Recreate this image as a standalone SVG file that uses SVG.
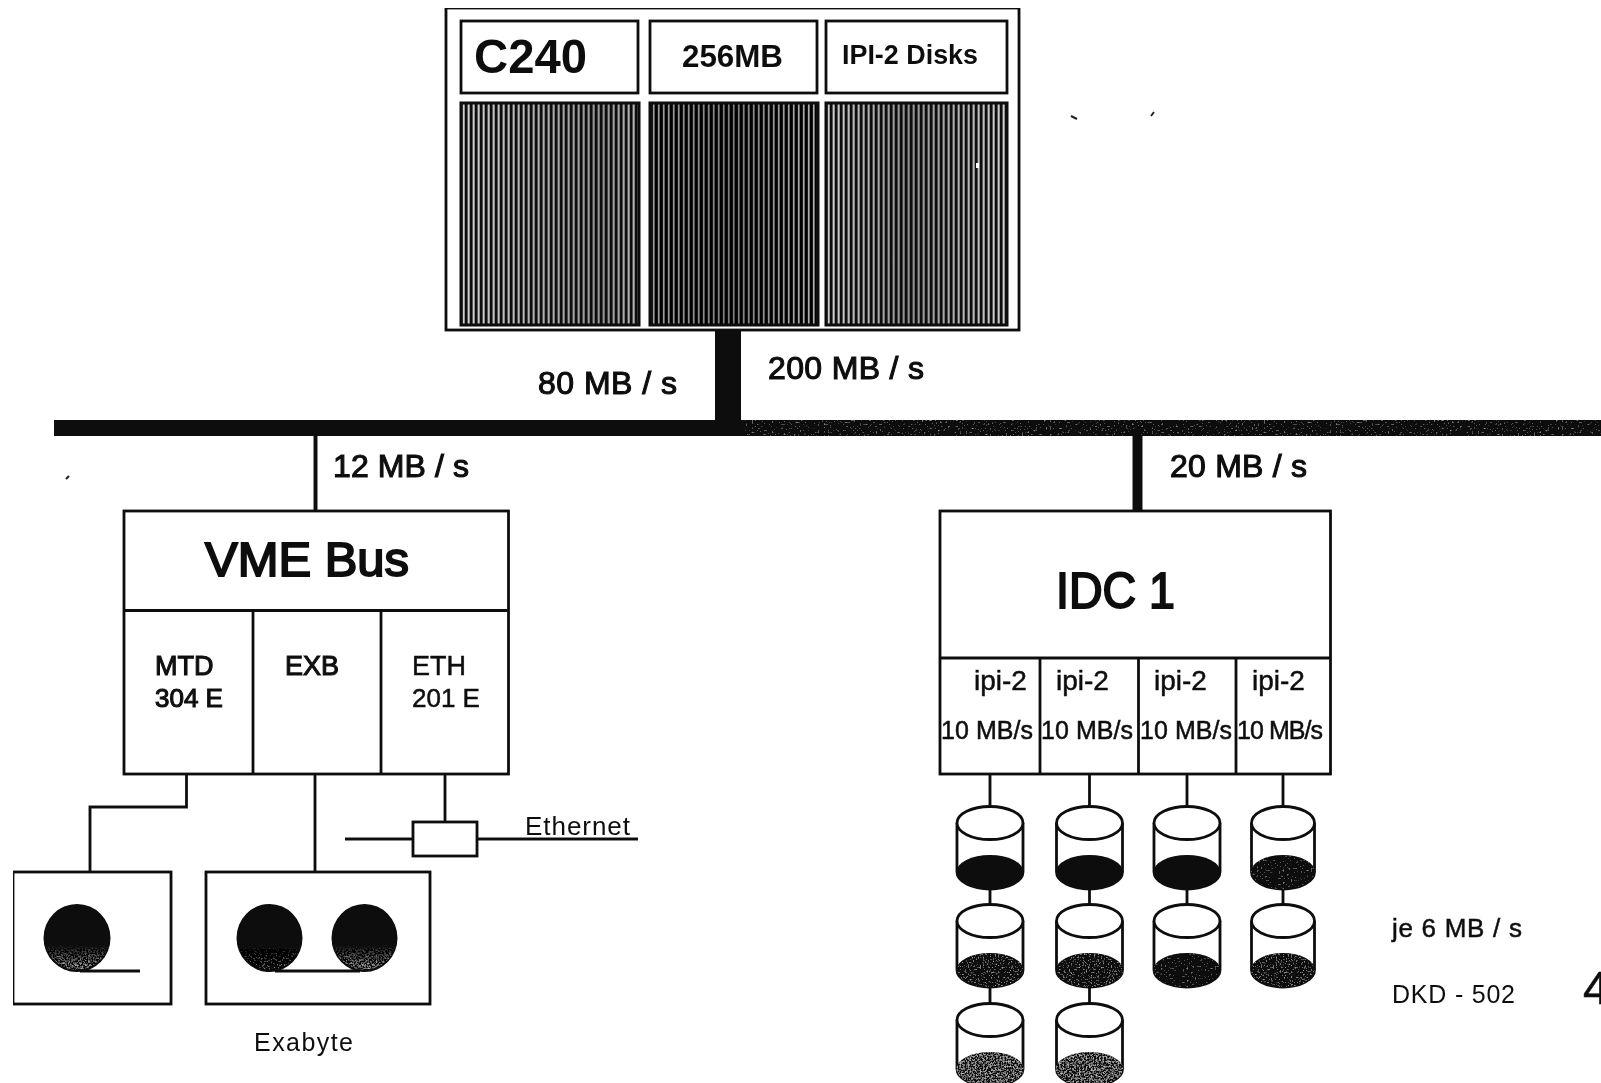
<svg xmlns="http://www.w3.org/2000/svg" xmlns:xlink="http://www.w3.org/1999/xlink" width="1601" height="1083" viewBox="0 0 1601 1083">
<style>
text{font-family:"Liberation Sans",Arial,sans-serif;fill:#111}
.b{font-weight:bold}
.h{stroke:#111;stroke-width:2}
.m{stroke:#111;stroke-width:1.100}
.l{stroke:#111;stroke-width:.5}
.box{fill:#fff;stroke:#111;stroke-width:2.800}
.thin{fill:none;stroke:#111;stroke-width:2.800}
.con{fill:none;stroke:#111;stroke-width:2.800}
.panel{stroke:#0a0a0a;stroke-width:3}
.reel{fill:#080808}
</style>
<defs>
<pattern id="s1" width="5" height="8" patternUnits="userSpaceOnUse"><rect width="5" height="8" fill="#0c0c0c"/><rect x="2.600" width="2.100" height="8" fill="#d0d0d0"/></pattern>
<pattern id="s2" width="5" height="8" patternUnits="userSpaceOnUse"><rect width="5" height="8" fill="#060606"/><rect x="2.900" width="1.700" height="8" fill="#b4b4b4"/></pattern>
<linearGradient id="g1" x1="0" x2="1" y1="0" y2="0"><stop offset="0" stop-color="#000" stop-opacity="0"/><stop offset=".8" stop-color="#000" stop-opacity=".28"/><stop offset="1" stop-color="#000" stop-opacity=".1"/></linearGradient>
<linearGradient id="g2" x1="0" x2="1" y1="0" y2="0"><stop offset="0" stop-color="#000" stop-opacity=".12"/><stop offset=".5" stop-color="#000" stop-opacity=".3"/><stop offset="1" stop-color="#000" stop-opacity="0"/></linearGradient>
<linearGradient id="g3" x1="0" x2="1" y1="0" y2="0"><stop offset="0" stop-color="#000" stop-opacity="0"/><stop offset=".45" stop-color="#000" stop-opacity=".3"/><stop offset="1" stop-color="#000" stop-opacity="0"/></linearGradient>
<linearGradient id="fade" x1="0" x2="0" y1="0" y2="1"><stop offset="0" stop-color="#080808" stop-opacity="0"/><stop offset="1" stop-color="#080808" stop-opacity="1"/></linearGradient>
<filter id="soft" x="0" y="0" width="100%" height="100%"><feGaussianBlur stdDeviation=".5"/></filter>
<filter id="speck0" x="0" y="0" width="100%" height="100%">
<feTurbulence type="fractalNoise" baseFrequency=".5" numOctaves="2" seed="5" result="n"/>
<feColorMatrix in="n" type="matrix" values="0 0 0 0 .5  0 0 0 0 .5  0 0 0 0 .5  3 0 0 0 -1.950" result="c"/>
<feComposite in="c" in2="SourceAlpha" operator="in" result="s"/>
<feMerge><feMergeNode in="SourceGraphic"/><feMergeNode in="s"/></feMerge>
</filter>
<filter id="speck1" x="0" y="0" width="100%" height="100%">
<feTurbulence type="fractalNoise" baseFrequency=".6" numOctaves="2" seed="3" result="n"/>
<feColorMatrix in="n" type="matrix" values="0 0 0 0 .5  0 0 0 0 .5  0 0 0 0 .5  3 0 0 0 -1.750" result="c"/>
<feComposite in="c" in2="SourceAlpha" operator="in" result="s"/>
<feMerge><feMergeNode in="SourceGraphic"/><feMergeNode in="s"/></feMerge>
</filter>
<filter id="speck2" x="0" y="0" width="100%" height="100%">
<feTurbulence type="fractalNoise" baseFrequency=".6" numOctaves="2" seed="8" result="n"/>
<feColorMatrix in="n" type="matrix" values="0 0 0 0 .5  0 0 0 0 .5  0 0 0 0 .5  3 0 0 0 -1.350" result="c"/>
<feComposite in="c" in2="SourceAlpha" operator="in" result="s"/>
<feMerge><feMergeNode in="SourceGraphic"/><feMergeNode in="s"/></feMerge>
</filter>
<g id="body">
<path d="M-33 17V66A33 17 0 0 0 33 66V17" fill="#fff" stroke="#111" stroke-width="2.800"/>
<ellipse cx="0" cy="17" rx="33" ry="16.500" fill="#fff" stroke="#111" stroke-width="2.800"/>
</g>
<path id="cap" d="M-33.500 66A33.500 17 0 0 1 33.500 66A33.500 17 0 0 1 -33.500 66Z" fill="#0b0b0b"/>
<g id="bodyn">
<path d="M-31.500 17V66A31.500 17 0 0 0 31.500 66V17" fill="#fff" stroke="#111" stroke-width="2.800"/>
<ellipse cx="0" cy="17" rx="31.500" ry="16.500" fill="#fff" stroke="#111" stroke-width="2.800"/>
</g>
<path id="capn" d="M-32 66A32 17 0 0 1 32 66A32 17 0 0 1 -32 66Z" fill="#0b0b0b"/>
<path id="reelLow" d="M-32 6A33 34 0 0 0 32 6Z" fill="url(#fade)"/>
</defs>
<rect width="1601" height="1083" fill="#fff"/>
<g filter="url(#soft)">

<g id="connectors">
<rect x="715" y="329" width="26" height="95" fill="#0a0a0a"/>
<rect x="54" y="420" width="691" height="16" fill="#0e0e0e"/>
<rect x="745" y="420" width="856" height="16" fill="#0e0e0e" filter="url(#speck0)"/>
<path class="con" d="M315.500 436V510" style="stroke-width:4"/>
<rect x="1132.500" y="436" width="10" height="74" fill="#0e0e0e"/>
<path class="con" d="M186.500 774V807H90V872"/>
<path class="con" d="M315 774V872"/>
<path class="con" d="M445 774V822"/>
<path class="con" d="M345 839H413M477 839H638"/>
<path class="con" d="M990 774V806M1089.500 774V806M1187 774V806M1283 774V806"/>
<path class="con" d="M990 887V904M1089.500 887V904M1187 887V904M1283 887V904"/>
<path class="con" d="M990 986V1003M1089.500 986V1003"/>
</g>

<g id="c240">
<rect class="box" x="446" y="8" width="573" height="322"/>
<rect class="box" x="461" y="21" width="177" height="72"/>
<rect class="box" x="650" y="21" width="167" height="72"/>
<rect class="box" x="826" y="21" width="181" height="72"/>
<rect class="panel" x="461" y="103" width="178" height="222" fill="url(#s1)"/>
<rect x="461" y="103" width="178" height="222" fill="url(#g1)"/>
<rect class="panel" x="650" y="103" width="168" height="222" fill="url(#s2)"/>
<rect x="650" y="103" width="168" height="222" fill="url(#g2)"/>
<rect class="panel" x="826" y="103" width="181" height="222" fill="url(#s1)"/>
<rect x="826" y="103" width="181" height="222" fill="url(#g3)"/>
<rect x="976" y="163" width="3" height="5" fill="#fff"/>
<text class="b" x="474" y="73" font-size="48" textLength="113" lengthAdjust="spacingAndGlyphs">C240</text>
<text class="b" x="682" y="67" font-size="31" textLength="101" lengthAdjust="spacingAndGlyphs">256MB</text>
<text class="b" x="842" y="64" font-size="27" textLength="136" lengthAdjust="spacingAndGlyphs">IPI-2 Disks</text>
</g>

<g id="labels">
<text class="m" x="538" y="394" font-size="32" textLength="139">80 MB / s</text>
<text class="m" x="768" y="379" font-size="32" textLength="156">200 MB / s</text>
<text class="m" x="333" y="477" font-size="32" textLength="136">12 MB / s</text>
<text class="m" x="1170" y="477" font-size="32" textLength="137">20 MB / s</text>
<text class="l" x="1392" y="937" font-size="26" textLength="130">je 6 MB / s</text>
<text x="1392" y="1003" font-size="25" textLength="123">DKD - 502</text>
<text x="1583" y="1004" font-size="47" class="l">4</text>
</g>

<g id="vme-bus">
<rect class="box" x="124" y="511" width="384.500" height="263"/>
<path class="thin" d="M124 610.500H508.500M253 610.500V774M381 610.500V774"/>
<text class="h" x="205" y="576" font-size="49" textLength="204" lengthAdjust="spacingAndGlyphs">VME Bus</text>
<text class="m" x="155" y="675" font-size="27">MTD</text>
<text class="m" x="155" y="707" font-size="26">304 E</text>
<text class="m" x="285" y="675" font-size="27">EXB</text>
<text class="l" x="412" y="675" font-size="27">ETH</text>
<text class="l" x="412" y="707" font-size="26">201 E</text>
</g>

<g id="idc-1">
<rect class="box" x="940" y="511" width="390.500" height="263"/>
<path class="thin" d="M940 658H1330.500M1040 658V774M1138.500 658V774M1236 658V774"/>
<text class="h" x="1056" y="608" font-size="50" textLength="119" lengthAdjust="spacingAndGlyphs">IDC 1</text>
<text class="l" x="974" y="690" font-size="28">ipi-2</text>
<text class="l" x="1056" y="690" font-size="28">ipi-2</text>
<text class="l" x="1154" y="690" font-size="28">ipi-2</text>
<text class="l" x="1252" y="690" font-size="28">ipi-2</text>
<text class="l" x="941" y="739" font-size="25" textLength="92">10 MB/s</text>
<text class="l" x="1041" y="739" font-size="25" textLength="92">10 MB/s</text>
<text class="l" x="1140" y="739" font-size="25" textLength="92">10 MB/s</text>
<text class="l" x="1237" y="739" font-size="25" textLength="86">10 MB/s</text>
</g>

<g id="tape-1">
<rect class="box" x="13" y="872" width="158" height="132"/>
<ellipse class="reel" cx="77" cy="938" rx="33.500" ry="34"/>
<use href="#reelLow" x="77" y="938" filter="url(#speck2)"/>
<path class="con" d="M80 971H140" style="stroke-width:3"/>
</g>
<g id="tape-2">
<rect class="box" x="206" y="872" width="224" height="132"/>
<ellipse class="reel" cx="269.500" cy="938" rx="33" ry="34"/>
<use href="#reelLow" x="269.500" y="938" filter="url(#speck1)"/>
<ellipse class="reel" cx="364.500" cy="938" rx="33" ry="34"/>
<use href="#reelLow" x="364.500" y="938" filter="url(#speck2)"/>
<path class="con" d="M275 971H360" style="stroke-width:3"/>
</g>
<text id="exabyte" x="254" y="1051" font-size="25" textLength="99">Exabyte</text>

<g id="ethernet">
<rect class="box" x="413" y="822" width="64" height="34"/>
<text x="525" y="835" font-size="26" textLength="105">Ethernet</text>
</g>

<g id="disk-1-1"><use href="#body" x="990" y="806"/><use href="#cap" x="990" y="806"/></g>
<g id="disk-2-1"><use href="#body" x="1089.500" y="806"/><use href="#cap" x="1089.500" y="806"/></g>
<g id="disk-3-1"><use href="#body" x="1187" y="806"/><use href="#cap" x="1187" y="806"/></g>
<g id="disk-4-1"><use href="#bodyn" x="1283" y="806"/><use href="#capn" x="1283" y="806" filter="url(#speck0)"/></g>
<g id="disk-1-2"><use href="#body" x="990" y="904"/><use href="#cap" x="990" y="904" filter="url(#speck1)"/></g>
<g id="disk-2-2"><use href="#body" x="1089.500" y="904"/><use href="#cap" x="1089.500" y="904" filter="url(#speck1)"/></g>
<g id="disk-3-2"><use href="#body" x="1187" y="904"/><use href="#cap" x="1187" y="904" filter="url(#speck0)"/></g>
<g id="disk-4-2"><use href="#bodyn" x="1283" y="904"/><use href="#capn" x="1283" y="904" filter="url(#speck1)"/></g>
<g id="disk-1-3"><use href="#body" x="990" y="1003"/><use href="#cap" x="990" y="1003" filter="url(#speck2)"/></g>
<g id="disk-2-3"><use href="#body" x="1089.500" y="1003"/><use href="#cap" x="1089.500" y="1003" filter="url(#speck2)"/></g>

<path d="M1071 116L1077 119M1154 112L1151 116M69 476L66 479" fill="none" stroke="#222" stroke-width="2"/>
</g>
</svg>
